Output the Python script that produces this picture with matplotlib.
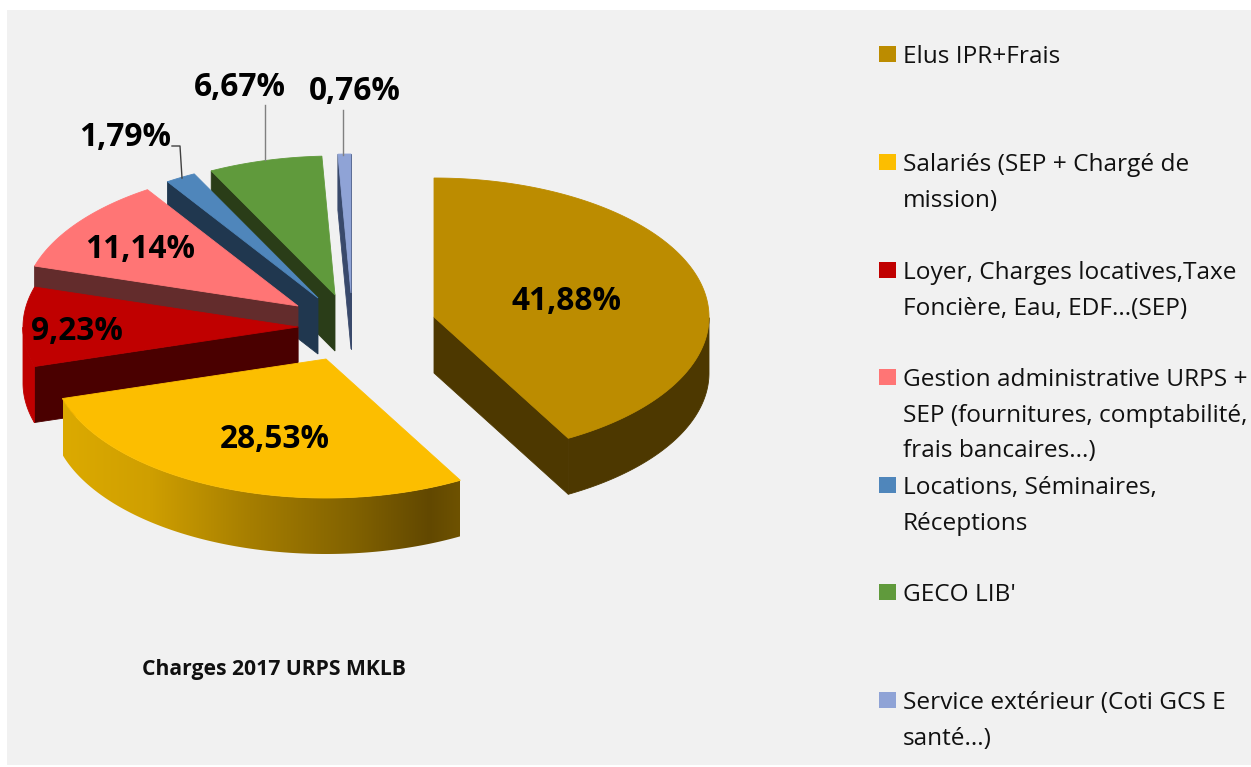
import numpy as np
import matplotlib
matplotlib.use("Agg")
import matplotlib.pyplot as plt
from matplotlib.colors import to_rgb
from matplotlib.patches import Rectangle

# Dati del grafico
labels = ["Elus IPR+Frais",
          "Salariés (SEP + Chargé de\nmission)",
          "Loyer, Charges locatives,Taxe\nFoncière, Eau, EDF...(SEP)",
          "Gestion administrative URPS +\nSEP (fournitures, comptabilité,\nfrais bancaires...)",
          "Locations, Séminaires,\nRéceptions",
          "GECO LIB'",
          "Service extérieur (Coti GCS E\nsanté...)"]
values = [41.88, 28.53, 9.23, 11.14, 1.79, 6.67, 0.76]
title = "Charges 2017 URPS MKLB"

# Stili
top_colors = ["#bc8c00", "#fcbe00", "#c00000", "#ff7575", "#4f86bb", "#609a3c", "#8fa3d6"]
cut_colors = ["#4d3800", "#6b5000", "#4a0000", "#632c2c", "#20374f", "#2a3d18", "#39496b"]
rim_colors = ["#4d3800", None, "#c00000", "#632c2c", "#20374f", "#2a3d18", "#39496b"]
centers = [(434, 317), (326, 359), (298, 327), (298, 306), (318, 298), (335, 295), (351, 293)]
label_pos = [(567, 302), (275, 440), (77, 332), (140, 249), (125, 137), (240, 87), (355, 92)]
legend_y = [62, 170, 278, 385, 493, 600, 708]
draw_order = [6, 5, 4, 3, 2, 1, 0]
rx, ry, depth = 275, 139, 56
grad_x = [63, 150, 250, 350, 430, 460]
grad_c = ["#dcaa00", "#cf9f00", "#a67e00", "#836300", "#624800", "#6e5200"]

plt.rcParams["font.family"] = ["Open Sans", "DejaVu Sans"]

fig = plt.figure(figsize=(12.51, 7.67), dpi=100, facecolor="white")
ax = fig.add_axes([0, 0, 1, 1])
ax.axis("off")
ax.add_patch(Rectangle((7, 10), 1244, 755, color="#f1f1f1", lw=0, zorder=0))


def rim(c, t):
    return c[0] + rx * np.sin(t), c[1] - ry * np.cos(t)


def poly(xs, ys, color, z):
    return ax.fill(xs, ys, color=color, lw=0.6, zorder=z)[0]


# Angoli delle fette, in senso orario dalle ore 12
edges = np.radians(np.concatenate([[0], np.cumsum(values)]) * 3.6)

z = 1
for i in draw_order:
    c = centers[i]
    t0, t1 = edges[i], edges[i + 1]
    # facce di taglio, solo quelle rivolte verso chi guarda
    for t, show in ((t0, np.sin(t0) < 0), (t1, np.sin(t1) > 0)):
        if show:
            px, py = rim(c, t)
            poly([c[0], px, px, c[0]], [c[1], py, py + depth, c[1] + depth], cut_colors[i], z)
    # bordo esterno visibile (parte anteriore dell'ellisse)
    th = np.linspace(t0, t1, 300)
    front = th[np.cos(th) < 0]
    if len(front) > 1:
        fx, fy = rim(c, front)
        xs = np.r_[fx, fx[::-1]]
        ys = np.r_[fy, fy[::-1] + depth]
        if rim_colors[i]:
            poly(xs, ys, rim_colors[i], z + 1)
        else:
            # sfumatura orizzontale del bordo
            p = ax.fill(xs, ys, facecolor="none", lw=0, zorder=z + 1)[0]
            rgb = np.array([to_rgb(k) for k in grad_c])
            gx = np.linspace(grad_x[0], grad_x[-1], 400)
            img = np.stack([np.interp(gx, grad_x, rgb[:, n]) for n in range(3)], axis=1)[None, :, :]
            im = ax.imshow(img, extent=(grad_x[0], grad_x[-1], ys.max() + 2, ys.min() - 2),
                           aspect="auto", zorder=z + 1)
            im.set_clip_path(p)
    # faccia superiore
    px, py = rim(c, th)
    poly(np.r_[c[0], px], np.r_[c[1], py], top_colors[i], z + 2)
    z += 3

ax.set_xlim(0, 1251)
ax.set_ylim(767, 0)

# Linee guida
ax.plot([265, 265], [105, 160], color="#808080", lw=1, zorder=50)
ax.plot([343, 343], [110, 155], color="#808080", lw=1, zorder=50)
ax.plot([172, 180, 182], [146, 146, 178], color="#404040", lw=1, zorder=50)

# Etichette percentuali
for v, (x, y) in zip(values, label_pos):
    ax.text(x, y, f"{v:.2f}%".replace(".", ","), ha="center", va="center",
            fontsize=22.8, fontweight="bold", color="black", zorder=60)

ax.text(274, 670, title, ha="center", va="center", fontsize=15.2, fontweight="bold", color="#101010", zorder=60)

# Legenda
for lab, col, y in zip(labels, top_colors, legend_y):
    ax.add_patch(Rectangle((879, y - 16), 17, 16, color=col, lw=0, zorder=60))
    for n, line in enumerate(lab.split("\n")):
        ax.text(903, y + 1 + n * 35.6, line, ha="left", va="baseline", fontsize=17.6,
                color="#111111", zorder=60)

fig.savefig("out.png", dpi=100)
